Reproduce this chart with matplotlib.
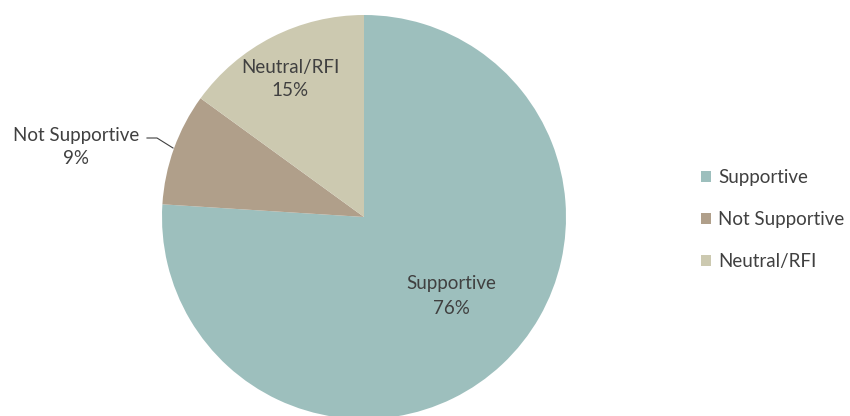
import matplotlib
matplotlib.use("Agg")
import matplotlib.pyplot as plt
from matplotlib.patches import Patch

labels = ["Supportive", "Not Supportive", "Neutral/RFI"]
shares = [76, 9, 15]
colors = ["#9dbfbd", "#b09f8a", "#ccc9b0"]
text_color = "#404040"

plt.rcParams['font.family'] = ['Lato', 'DejaVu Sans']

fig = plt.figure(figsize=(8.5, 4.16), dpi=100)
ax = fig.add_axes([0, 0, 1, 1])

# pie centre sits at pixel (364, 217), radius ~202 px
R = 202.0
cx, cy = 364.0, 217.0

def px(x, y):
    return ((x - cx) / R, (cy - y) / R)

ax.pie(shares, colors=colors, startangle=90, counterclock=False,
       radius=1.0, wedgeprops=dict(linewidth=0))

fs = 13.5
ls = 1.5
x, y = px(451, 296)
ax.text(x, y, f"{labels[0]}\n{shares[0]}%", ha="center", va="center",
        fontsize=fs, color=text_color, linespacing=ls)
x, y = px(290, 79)
ax.text(x, y, f"{labels[2]}\n{shares[2]}%", ha="center", va="center",
        fontsize=fs, color=text_color, linespacing=ls)
x, y = px(76, 147)
ax.text(x, y, f"{labels[1]}\n{shares[1]}%", ha="center", va="center",
        fontsize=fs, color=text_color, linespacing=ls)

# leader line for the small slice
p0 = px(173, 148)
p1 = px(157, 138)
p2 = px(147, 138)
ax.plot([p0[0], p1[0], p2[0]], [p0[1], p1[1], p2[1]], color="#404040", lw=0.8)

handles = [Patch(facecolor=c, edgecolor="none") for c in colors]
fig.legend(handles, labels, loc="center left", bbox_to_anchor=(0.805, 0.472),
           frameon=False, fontsize=fs, labelcolor=text_color,
           handlelength=0.55, handleheight=0.55, handletextpad=0.35,
           labelspacing=1.35)

ax.set_xlim(-cx / R, (850 - cx) / R)
ax.set_ylim(-(416 - cy) / R, cy / R)
ax.set_aspect("auto")
ax.axis("off")

fig.savefig("out.png", dpi=100)
